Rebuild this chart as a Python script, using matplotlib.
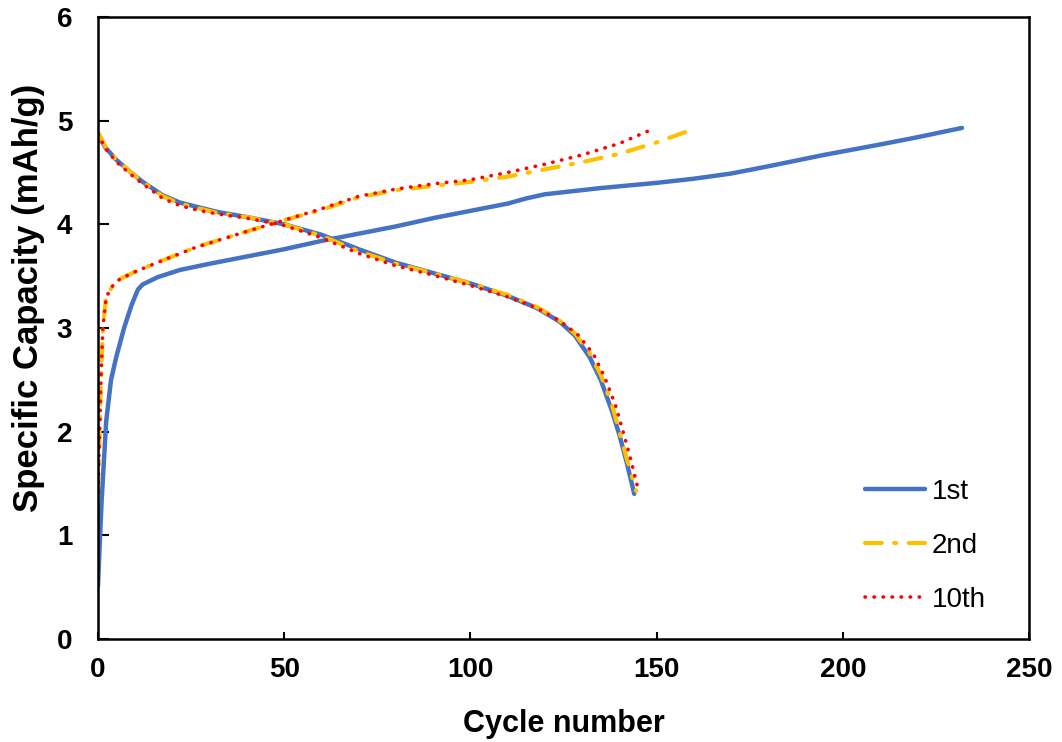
import numpy as np
import matplotlib.pyplot as plt
import matplotlib as mpl

# ---- Data ----
# 1st cycle
c1_chg_x = [0, 0.45, 1, 2.2, 3.5, 4.9, 7, 9, 10.7, 12, 16, 22, 30, 40, 50, 60, 70, 80, 90,
            100, 110, 115, 120, 125, 135, 150, 160, 170, 180, 195, 210, 220, 232]
c1_chg_y = [0.51, 0.9, 1.35, 2.1, 2.5, 2.72, 3.0, 3.22, 3.37, 3.42, 3.49, 3.56, 3.62, 3.69,
            3.76, 3.84, 3.91, 3.98, 4.06, 4.13, 4.20, 4.25, 4.29, 4.31, 4.35, 4.40, 4.44, 4.49,
            4.56, 4.67, 4.77, 4.84, 4.93]
c1_dis_x = [0, 2, 5, 8.5, 12, 17.4, 22, 26.4, 32, 40, 50, 60, 70, 80, 90, 100, 110, 118, 124, 128,
            132, 135, 138, 140, 142, 144]
c1_dis_y = [4.87, 4.74, 4.62, 4.51, 4.41, 4.28, 4.21, 4.17, 4.12, 4.07, 4.0, 3.9, 3.76, 3.63,
            3.53, 3.43, 3.31, 3.19, 3.06, 2.93, 2.72, 2.5, 2.2, 1.97, 1.7, 1.4]

# 2nd cycle
c2_chg_x = [0, 0.2, 0.45, 0.8, 1.3, 2.2, 4, 5.8, 9.8, 16.5, 26.4, 40.7, 50, 60, 70, 80,
            90, 100, 110, 120, 130, 140, 150, 160]
c2_chg_y = [1.42, 1.7, 2.0, 2.5, 3.0, 3.3, 3.41, 3.47, 3.54, 3.64, 3.78, 3.94,
            4.04, 4.14, 4.26, 4.33, 4.37, 4.41, 4.46, 4.53, 4.6, 4.68, 4.79, 4.92]
c2_dis_x = [0, 2, 5, 8.5, 12, 17.4, 22, 26.4, 32, 40, 50, 60, 70, 80, 90, 100, 110, 118, 124, 128,
            132, 135, 138, 140, 142, 144.5]
c2_dis_y = [4.89, 4.75, 4.62, 4.51, 4.41, 4.27, 4.2, 4.16, 4.11, 4.07, 4.0, 3.89, 3.74, 3.62,
            3.53, 3.43, 3.32, 3.2, 3.07, 2.95, 2.76, 2.55, 2.26, 2.0, 1.74, 1.43]

# 10th cycle
c10_chg_x = [0, 0.2, 0.45, 0.8, 1.3, 2.2, 4, 5.8, 9.8, 16.5, 26.4, 40.7, 50, 60, 70, 80,
             90, 100, 110, 120, 130, 140, 149]
c10_chg_y = [1.42, 1.7, 2.0, 2.5, 3.0, 3.3, 3.41, 3.47, 3.54, 3.64, 3.78, 3.94,
             4.04, 4.15, 4.27, 4.34, 4.39, 4.43, 4.5, 4.58, 4.67, 4.78, 4.92]
c10_dis_x = [0, 2, 5, 8.5, 12, 17.4, 22, 26.4, 32, 40, 50, 60, 70, 80, 90, 100, 110, 118, 124, 129,
             133, 136, 139, 141, 143, 145]
c10_dis_y = [4.87, 4.73, 4.6, 4.49, 4.39, 4.25, 4.18, 4.14, 4.1, 4.06, 3.99, 3.87, 3.72, 3.6,
             3.51, 3.41, 3.3, 3.19, 3.07, 2.93, 2.75, 2.53, 2.25, 2.0, 1.74, 1.45]

BLUE = "#4472C4"; GOLD = "#FFC000"; RED = "#FF0000"

mpl.rcParams.update({"font.family": "Liberation Sans"})

fig = plt.figure(figsize=(10.62, 7.42), dpi=100)
ax = fig.add_axes([98/1062, 1 - 639/742, (1029-98)/1062, (639-17)/742])

ax.plot(c1_chg_x, c1_chg_y, color=BLUE, lw=3.2, solid_capstyle="round", label="1st")
ax.plot(c1_dis_x, c1_dis_y, color=BLUE, lw=3.2, solid_capstyle="round")
ax.plot(c2_chg_x, c2_chg_y, color=GOLD, lw=3, dashes=(4, 3, 0.5, 3), dash_capstyle="round", label="2nd")
ax.plot(c2_dis_x, c2_dis_y, color=GOLD, lw=3, dashes=(4, 3, 0.5, 3), dash_capstyle="round")
ax.plot(c10_chg_x, c10_chg_y, color=RED, lw=2.6, dashes=(0.1, 2.4), dash_capstyle="round", label="10th")
ax.plot(c10_dis_x, c10_dis_y, color=RED, lw=2.6, dashes=(0.1, 2.4), dash_capstyle="round")

ax.set_xlim(0, 250); ax.set_ylim(0, 6)
ax.set_xticks(range(0, 251, 50)); ax.set_yticks(range(0, 7))
ax.tick_params(direction="in", labelsize=20, width=1.5)
ax.tick_params(axis="x", length=5, pad=13)
ax.tick_params(axis="y", length=8, pad=18.5)
for lab in ax.get_xticklabels() + ax.get_yticklabels():
    lab.set_fontweight("bold")
for sp in ax.spines.values():
    sp.set_linewidth(1.8)

ax.set_xlabel("Cycle number", fontsize=22, fontweight="bold", va="center")
ax.xaxis.set_label_coords(0.5, -0.137)
ax.set_ylabel("Specific Capacity (mAh/g)", fontsize=25, fontweight="bold", va="center")
ax.yaxis.set_label_coords(-0.075, 0.548)

ax.legend(loc="upper left", bbox_to_anchor=(0.824, 0.257), frameon=False, fontsize=20,
          handlelength=2.16, labelspacing=1.0, handletextpad=0.25,
          borderpad=0, borderaxespad=0)

plt.savefig("out.png", dpi=100, facecolor="white")
